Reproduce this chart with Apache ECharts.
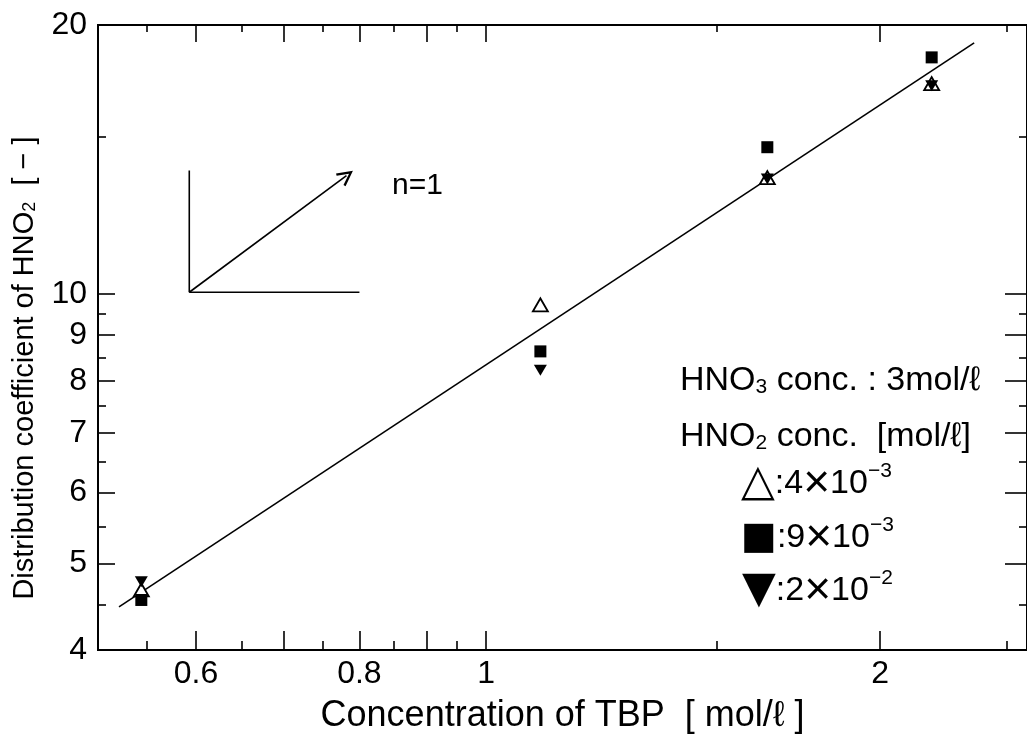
<!DOCTYPE html>
<html><head><meta charset="utf-8">
<script src="https://cdn.jsdelivr.net/npm/echarts@6/dist/echarts.min.js"></script>
<style>html,body{margin:0;padding:0;background:#fff}#c{width:1027px;height:739px}</style>
</head><body><div id="c"></div>
<script>
// ---- data ----
const tbp = [0.545, 1.1, 1.64, 2.19];
const dTriangle = [4.67, 9.73, 13.5, 17.2];
const dSquare = [4.55, 8.63, 14.6, 18.4];
const dInvTri = [4.77, 8.22, 13.45, 17.1];
const fitLine = [[0.524, 4.47], [2.36, 19.1]];
const slopeV = [[0.593, 13.75], [0.593, 10.05]];
const slopeH = [[0.593, 10.05], [0.80, 10.05]];
const slopeArrow = [[0.593, 10.05], [0.782, 13.57]];
const xMajor = [0.6, 0.7, 0.8, 0.9, 1, 2];
const xMinor = [0.55, 0.65, 0.75, 0.85, 0.95, 1.5, 2.5];
const xLabels = [0.6, 0.8, 1, 2];
const yMajor = [5, 6, 7, 8, 9, 10];
const yMinor = [4.5, 5.5, 6.5, 7.5, 8.5, 9.5, 15];
const yLabels = [4, 5, 6, 7, 8, 9, 10, 20];
const X_MIN = 0.505, X_MAX = 2.59, Y_MIN = 4, Y_MAX = 20;

const FONT = "'Liberation Sans', Arial, sans-serif";
const SYMFONT = "'DejaVu Sans', sans-serif";
const chart = echarts.init(document.getElementById('c'), null, {renderer: 'canvas'});

function xAx(pos, ticks, len, labels, extra) {
  return Object.assign({
    type: 'log', logBase: 10, min: X_MIN, max: X_MAX, position: pos,
    axisLine: {show: true, onZero: false, lineStyle: {color: '#000', width: 2}},
    axisTick: {show: true, inside: true, length: len, customValues: ticks, lineStyle: {color: '#000', width: 1.6}},
    axisLabel: labels ? {show: true, customValues: labels, color: '#000', fontFamily: FONT, fontSize: 32, margin: 8,
      formatter: v => String(+(+v).toFixed(2))} : {show: false},
    splitLine: {show: false}, minorTick: {show: false}
  }, extra || {});
}
function yAx(pos, ticks, len, labels, extra) {
  return Object.assign({
    type: 'log', logBase: 10, min: Y_MIN, max: Y_MAX, position: pos,
    axisLine: {show: true, onZero: false, lineStyle: {color: '#000', width: 2}},
    axisTick: {show: true, inside: true, length: len, customValues: ticks, lineStyle: {color: '#000', width: 1.6}},
    axisLabel: labels ? {show: true, customValues: labels, color: '#000', fontFamily: FONT, fontSize: 32, margin: 11,
      formatter: v => String(Math.round(+v))} : {show: false},
    splitLine: {show: false}, minorTick: {show: false}
  }, extra || {});
}

const legendRich = {
  sup: {fontFamily: FONT, fontSize: 21, verticalAlign: 'top', fill: '#000'},
  x: {fontFamily: FONT, fontSize: 46, fill: '#000'},
  s: {fontFamily: SYMFONT, fontSize: 44, fill: '#000'},
  q: {fontFamily: SYMFONT, fontSize: 38, fill: '#000'}
};
const subRich = {sub: {fontFamily: FONT, fontSize: 21, verticalAlign: 'bottom', fill: '#000'}};

const option = {
  backgroundColor: '#fff',
  animation: false,
  grid: {left: 98, top: 25, width: 932, height: 633, containLabel: false},
  xAxis: [
    xAx('bottom', xMajor, 19, xLabels, {
      name: 'Concentration of TBP  [ mol/ℓ ]', nameLocation: 'middle', nameGap: 48,
      nameTextStyle: {color: '#000', fontFamily: FONT, fontSize: 36}
    }),
    xAx('bottom', xMinor, 9, null),
    xAx('top', xMajor, 17, null),
    xAx('top', xMinor, 7, null)
  ],
  yAxis: [
    yAx('left', yMajor, 17, yLabels),
    yAx('left', yMinor, 8, null),
    yAx('right', yMajor, 22, null),
    yAx('right', yMinor, 8, null)
  ],
  series: [
    {type: 'line', name: 'fit', data: fitLine, showSymbol: false, symbol: 'none',
      lineStyle: {color: '#000', width: 1.6}, z: 2},
    {type: 'line', name: 'slopeV', data: slopeV, symbol: 'none', lineStyle: {color: '#000', width: 1.6}},
    {type: 'line', name: 'slopeH', data: slopeH, symbol: 'none', lineStyle: {color: '#000', width: 1.6}},
    {type: 'lines', coordinateSystem: 'cartesian2d', name: 'arrow',
      symbol: ['none', 'path://M0,10 L5,0 L10,10 L8.6,10.6 L5,3.2 L1.4,10.6 Z'], symbolSize: 16,
      data: [{coords: slopeArrow}], lineStyle: {color: '#000', width: 1.6, opacity: 1}},
    {type: 'scatter', name: '4e-3', symbol: 'triangle', symbolSize: [15, 13],
      data: tbp.map((x, i) => [x, dTriangle[i]]),
      itemStyle: {color: '#fff', borderColor: '#000', borderWidth: 1.8, opacity: 1}, z: 3},
    {type: 'scatter', name: '9e-3', symbol: 'rect', symbolSize: 12,
      data: tbp.map((x, i) => [x, dSquare[i]]), itemStyle: {color: '#000', opacity: 1}, z: 4},
    {type: 'scatter', name: '2e-2', symbol: 'triangle', symbolRotate: 180, symbolSize: [13, 11],
      data: tbp.map((x, i) => [x, dInvTri[i]]), itemStyle: {color: '#000', opacity: 1}, z: 5}
  ],
  graphic: [
    {type: 'text', x: 25, y: 368, rotation: Math.PI / 2,
      style: {text: 'Distribution coefficient of HNO{sub|2}  [ − ]', fill: '#000', font: '29px ' + FONT,
        align: 'center', verticalAlign: 'middle',
        rich: {sub: {fontFamily: FONT, fontSize: 18, verticalAlign: 'bottom', fill: '#000'}}}},
    {type: 'text', x: 392, y: 186, style: {text: 'n=1', fill: '#000', font: '30px ' + FONT, align: 'left', verticalAlign: 'middle'}},
    {type: 'text', x: 680, y: 381, style: {text: 'HNO{sub|3} conc. : 3mol/ℓ', fill: '#000', font: '34px ' + FONT,
      align: 'left', verticalAlign: 'middle', rich: subRich}},
    {type: 'text', x: 680, y: 437, style: {text: 'HNO{sub|2} conc.  [mol/ℓ]', fill: '#000', font: '34px ' + FONT,
      align: 'left', verticalAlign: 'middle', rich: subRich}},
    {type: 'text', x: 741, y: 484, style: {text: '{s|△}:4{x|×}10{sup|−3}', fill: '#000', font: '34px ' + FONT,
      align: 'left', verticalAlign: 'middle', rich: legendRich}},
    {type: 'text', x: 741, y: 538, style: {text: '{q|■}:9{x|×}10{sup|−3}', fill: '#000', font: '34px ' + FONT,
      align: 'left', verticalAlign: 'middle', rich: legendRich}},
    {type: 'text', x: 742, y: 591, style: {text: '{s|▼}:2{x|×}10{sup|−2}', fill: '#000', font: '34px ' + FONT,
      align: 'left', verticalAlign: 'middle', rich: legendRich}}
  ]
};
chart.setOption(option);
</script>
</body></html>
